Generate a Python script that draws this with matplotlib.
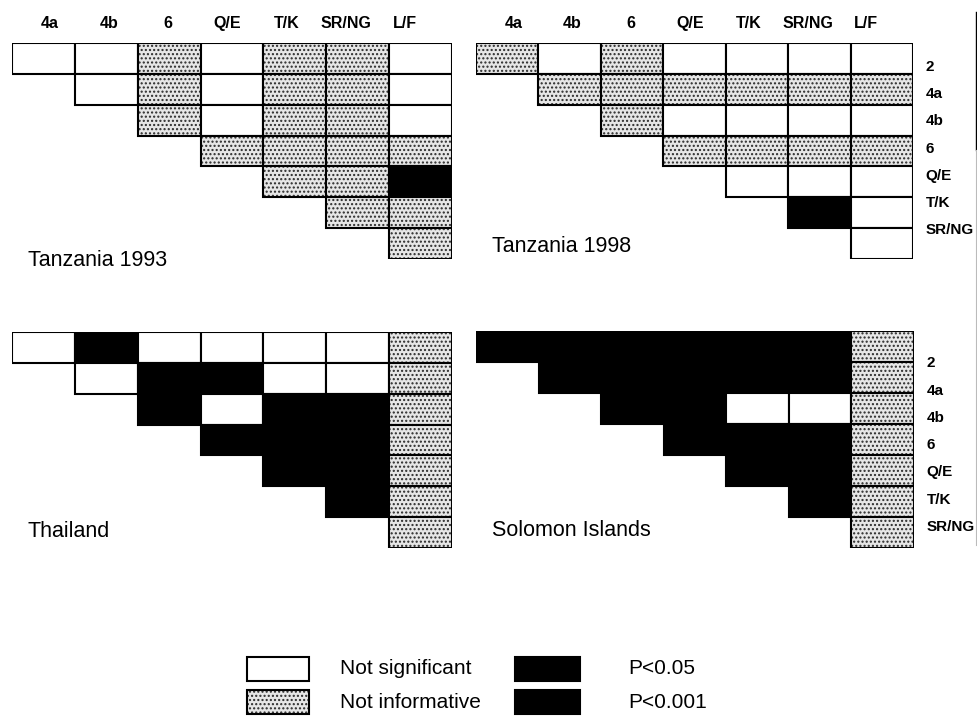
import matplotlib
matplotlib.use('Agg')
import matplotlib.pyplot as plt
from matplotlib.patches import Rectangle
from matplotlib.lines import Line2D

plt.rcParams['hatch.linewidth'] = 1.0

col_labels = ['4a', '4b', '6', 'Q/E', 'T/K', 'SR/NG', 'L/F']
row_labels = ['2', '4a', '4b', '6', 'Q/E', 'T/K', 'SR/NG']

# W = not significant, G = not informative, B = P<0.05 / P<0.001
# row i holds the cells from column i to the last one
tanzania93 = ['WWGWGGW', 'WGWGGW', 'GWGGW', 'GGGG', 'GGB', 'GG', 'G']
tanzania98 = ['GWGWWWW', 'GGGGGG', 'GWWWW', 'GGGG', 'WWW', 'BW', 'W']
thailand = ['WBWWWWG', 'WBBWWG', 'BWBBG', 'BBBG', 'BBG', 'BG', 'G']
solomon = ['BBBBBBG', 'BBBBBG', 'BBWWG', 'BBBG', 'BBG', 'BG', 'G']

legend_names = ['Not significant', 'Not informative', 'P<0.05', 'P<0.001']
legend_codes = ['W', 'G', 'B', 'B']

W, H = 977, 723
fig = plt.figure(figsize=(W/100, H/100), dpi=100)

font = ['Liberation Sans', 'DejaVu Sans']

def px_axes(x0, y0, x1, y1):
	return fig.add_axes([x0/W, 1-y1/H, (x1-x0)/W, (y1-y0)/H])

def cell(ax, x, y, w, h, code):
	if code == 'G':
		ax.add_patch(Rectangle((x, y), w, h, facecolor='#e6e6e6', edgecolor='#2a2a2a', hatch='....', lw=0))
		ax.add_patch(Rectangle((x, y), w, h, fill=False, edgecolor='black', lw=1.5))
	elif code == 'B':
		ax.add_patch(Rectangle((x, y), w, h, facecolor='black', edgecolor='black', lw=1.5))
	else:
		ax.add_patch(Rectangle((x, y), w, h, facecolor='white', edgecolor='black', lw=1.5))

def panel(box, data, title, title_y, headers=False, rows=False, row0=0.78):
	ax = px_axes(*box)
	ax.set_xlim(0, 7)
	ax.set_ylim(7, 0)
	ax.axis('off')
	for i, r in enumerate(data):
		for k, code in enumerate(r):
			cell(ax, i+k, i, 1, 1, code)
	if headers:
		for j, lab in enumerate(col_labels):
			ax.text(0.6+j*0.942, -0.62, lab, ha='center', va='center', fontsize=11.5,
				fontweight='bold', family=font, clip_on=False)
	if rows:
		for i, lab in enumerate(row_labels):
			ax.text(7.2, row0+i*0.88, lab, ha='left', va='center', fontsize=11,
				fontweight='bold', family=font, clip_on=False)
	ax.text(0.25, title_y, title, ha='left', va='center', fontsize=15.5, family=font, clip_on=False)
	return ax

panel((12, 43, 452, 259), tanzania93, 'Tanzania 1993', 7.05, headers=True)
panel((476, 43, 913, 259), tanzania98, 'Tanzania 1998', 6.6, headers=True, rows=True, row0=0.78)
panel((12, 332, 452, 548), thailand, 'Thailand', 6.45)
panel((476, 331, 914, 548), solomon, 'Solomon Islands', 6.45, rows=True, row0=1.04)

# legend
lax = px_axes(240, 650, 720, 723)
lax.set_xlim(0, 480)
lax.set_ylim(73, 0)
lax.axis('off')
for n, (name, code) in enumerate(zip(legend_names, legend_codes)):
	c, r = n // 2, n % 2
	x0 = 7 + c*268
	y0 = 7 + r*33
	cell(lax, x0, y0, 62 if c == 0 else 65, 24, code)
	lax.text(x0+93 if c == 0 else x0+113, y0+12, name, ha='left', va='center',
		fontsize=15, family=font)

# scan edge on the right
fig.add_artist(Line2D([976/W, 976/W], [1-12/H, 1-150/H], color='black', lw=1))
fig.add_artist(Line2D([976/W, 976/W], [1-150/H, 1-545/H], color='#bbbbbb', lw=0.8))

fig.savefig('out.png', dpi=100)
